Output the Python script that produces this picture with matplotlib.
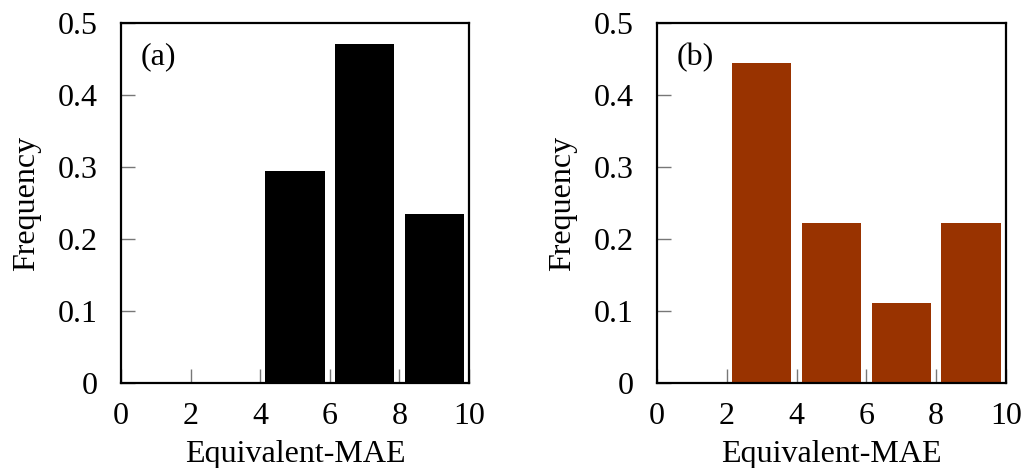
import matplotlib
matplotlib.use("Agg")
import matplotlib.pyplot as plt

bin_centers = [1, 3, 5, 7, 9]
freq_a = [0.0, 0.0, 5/17, 8/17, 4/17]
freq_b = [0.0, 4/9, 2/9, 1/9, 2/9]
xticks = [0, 2, 4, 6, 8, 10]
yticks = [0, 0.1, 0.2, 0.3, 0.4, 0.5]
ytick_labels = ["0", "0.1", "0.2", "0.3", "0.4", "0.5"]
panel_labels = ["(a)", "(b)"]
colors = ["#000000", "#993300"]

plt.rcParams['font.family'] = ['Liberation Serif', 'DejaVu Serif']
plt.rcParams['font.size'] = 23

fig = plt.figure(figsize=(10.22, 4.68), dpi=100)
W, H = 1022, 468
boxes = [(121, 23, 469, 383), (657, 23, 1006, 383)]
for (l, t, r, b), vals, lab, col in zip(boxes, [freq_a, freq_b], panel_labels, colors):
    ax = fig.add_axes([l / W, 1 - b / H, (r - l) / W, (b - t) / H])
    ax.bar(bin_centers, vals, width=1.7, color=col, zorder=1)
    ax.set_xlim(0, 10)
    ax.set_ylim(0, 0.5)
    ax.set_xticks(xticks)
    ax.set_yticks(yticks)
    ax.set_yticklabels(ytick_labels)
    ax.tick_params(direction='in', length=10, width=1, color='#777777',
                   top=False, right=False, labelsize=23)
    ax.tick_params(axis='x', pad=14)
    ax.tick_params(axis='y', pad=17)
    for s in ax.spines.values():
        s.set_linewidth(1.6)
        s.set_zorder(3)
    ax.set_xlabel("Equivalent-MAE", fontsize=23, labelpad=6)
    ax.set_ylabel("Frequency", fontsize=23, labelpad=12)
    ax.text(0.055, 0.905, lab, transform=ax.transAxes, fontsize=23,
            ha='left', va='center')

fig.savefig("out.png", dpi=100)
